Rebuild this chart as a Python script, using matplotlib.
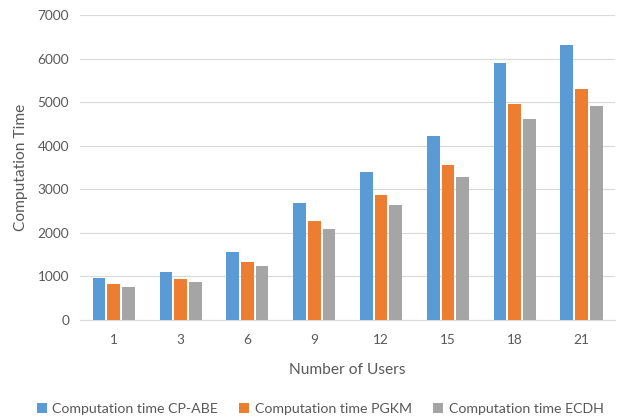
import numpy as np
import matplotlib.pyplot as plt

plt.rcParams["font.family"] = ["Lato", "DejaVu Sans"]

users = ["1", "3", "6", "9", "12", "15", "18", "21"]
cp_abe = [960, 1110, 1570, 2680, 3390, 4230, 5900, 6310]
pgkm = [820, 935, 1325, 2265, 2860, 3550, 4950, 5295]
ecdh = [765, 870, 1240, 2095, 2645, 3290, 4615, 4925]

series = [
    ("Computation time CP-ABE", cp_abe, "#5B9BD5"),
    ("Computation time PGKM", pgkm, "#ED7D31"),
    ("Computation time ECDH", ecdh, "#A5A5A5"),
]

text_color = "#595959"

fig = plt.figure(figsize=(6.18, 4.2), dpi=100)
ax = fig.add_axes([0.13, 0.238, 0.865, 0.726])

x = np.arange(len(users))
width = 0.19
for i, (label, vals, color) in enumerate(series):
    ax.bar(x + (i - 1) * 0.22, vals, width, color=color, label=label, zorder=3)

ax.set_ylim(0, 7000)
ax.set_yticks(range(0, 7001, 1000))
ax.set_xlim(-0.5, len(users) - 0.5)
ax.set_xticks(x)
ax.set_xticklabels(users)
ax.grid(axis="y", color="#D9D9D9", linewidth=0.8, zorder=0)

for side in ["top", "right", "left"]:
    ax.spines[side].set_visible(False)
ax.spines["bottom"].set_color("#D9D9D9")
ax.tick_params(axis="both", length=0, colors=text_color, labelsize=9.8)
ax.tick_params(axis="x", pad=10)
ax.tick_params(axis="y", pad=8)

ax.set_xlabel("Number of Users", color=text_color, fontsize=11.2, labelpad=12)
ax.set_ylabel("Computation Time", color=text_color, fontsize=11.2, labelpad=7)

fig.legend(
    loc="center",
    bbox_to_anchor=(0.518, 0.027),
    ncol=3,
    frameon=False,
    fontsize=10.2,
    handlelength=0.7,
    handleheight=0.7,
    handletextpad=0.4,
    columnspacing=1.5,
    labelcolor=text_color,
)

fig.savefig("out.png", dpi=100)
